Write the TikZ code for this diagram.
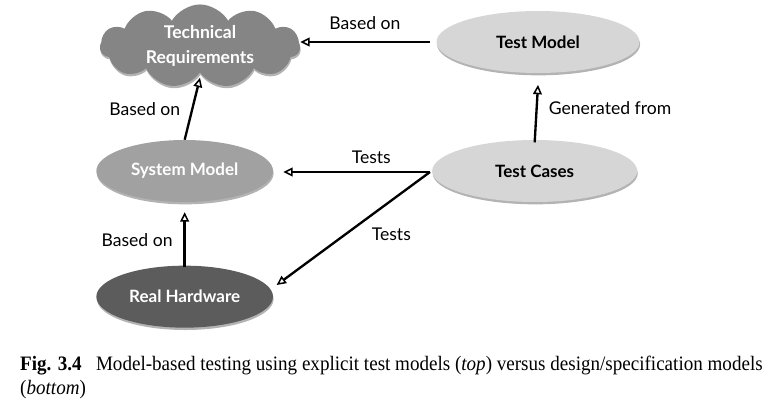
\documentclass[tikz,border=0pt]{standalone}
\usepackage{fontspec}
\setmainfont{Liberation Serif}[FakeStretch=0.93]
\setsansfont{Lato}
\usetikzlibrary{arrows.meta}
\usetikzlibrary{shapes.geometric}
\usetikzlibrary{shapes.symbols}
\usetikzlibrary{shadows}
\usetikzlibrary{positioning}
\tikzset{link/.style = {draw, line width=2pt, -{Triangle[open, length=8pt, width=7.5pt, line width=1.3pt]}}}
\tikzset{model/.style = {ellipse, minimum width=5.3cm, minimum height=1.86cm,
                         font=\sffamily\bfseries\fontsize{14.5}{16}\selectfont,
                         drop shadow={shadow xshift=0.5pt, shadow yshift=-2pt, opacity=0.6}}}
\tikzset{lbl/.style = {font=\sffamily\fontsize{15}{17}\selectfont}}
\definecolor{lightgrey}{gray}{0.84}
\definecolor{midgrey}{gray}{0.63}
\definecolor{darkgrey}{gray}{0.36}
\definecolor{cloudgrey}{gray}{0.52}

\begin{document}
\begin{tikzpicture}
    \useasboundingbox (0, 0) rectangle (23.16, -12.33);

    \node (req) at (6, -1.38) [cloud, cloud puffs=11, cloud puff arc=120, aspect=3, inner sep=0pt,
                               minimum width=6cm, minimum height=2.16cm, fill=cloudgrey,
                               text=white, align=center, font=\sffamily\bfseries\fontsize{15}{21}\selectfont,
                               drop shadow={shadow xshift=0.5pt, shadow yshift=-2pt, opacity=0.6}]
                               {Technical\\Requirements};
    \node (testmodel) at (16.14, -1.26) [model, fill=lightgrey, minimum width=6.09cm] {Test Model};
    \node (testcases) at (16.04, -5.13) [model, fill=lightgrey, minimum width=6.15cm] {Test Cases};
    \node (sysmodel) at (5.54, -5.13) [model, fill=midgrey, text=white] {System Model};
    \node (hardware) at (5.54, -8.9) [model, fill=darkgrey, text=white] {Real Hardware};

    \draw [link] (testmodel.west) ++(-0.2, 0) -- (req.east |- testmodel.west)
        node [lbl, pos=0.5, above=6pt] {Based on};
    \draw [link] (testcases.north) ++(0, -0.08) -- ([yshift=-0.35cm] testmodel.south)
        node [lbl, pos=0.6, right=6pt] {Generated from};
    \draw [link] (sysmodel.north) -- ([yshift=-0.15cm] req.south)
        node [lbl, pos=0.5, left=6pt] {Based on};
    \draw [link] ([yshift=-0.05cm] hardware.north) -- ([yshift=-0.3cm] sysmodel.south)
        node [lbl, pos=0.5, left=6pt] {Based on};

    \coordinate (fork) at (12.9, -5.16);
    \draw [link] (fork) -- ([xshift=0.3cm] sysmodel.east |- fork)
        node [lbl, pos=0.4, above=3pt] {Tests};
    \draw [link] (fork) -- (8.3, -8.55)
        node [lbl, pos=0.55, right=18pt] {Tests};

    \node (caption) at (0.6, -10.98) [anchor=west, inner sep=0, font=\fontsize{17.5}{21}\selectfont]
        {\textbf{Fig. 3.4}\hspace{0.7em}Model-based testing using explicit test models (\textit{top}) versus design/specification models};
    \node (caption2) at (0.6, -11.7) [anchor=west, inner sep=0, font=\fontsize{17.5}{21}\selectfont]
        {(\textit{bottom})};
\end{tikzpicture}
\end{document}
